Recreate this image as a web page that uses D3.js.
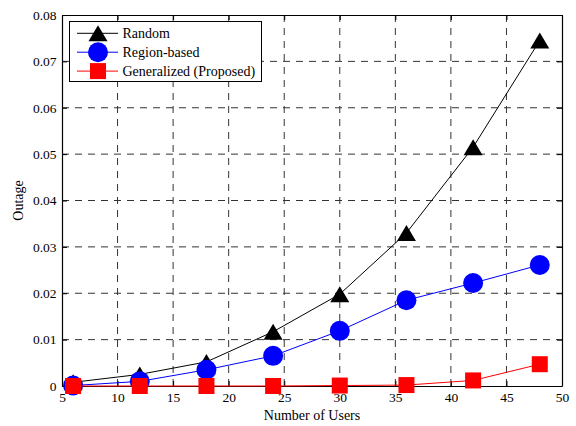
<!DOCTYPE html>
<html>
<head>
<meta charset="utf-8">
<style>
	body { margin: 0; background: #fff; }
	text { font-family: "Liberation Serif", "Times New Roman", "DejaVu Serif", serif; fill: #000; }
	.grid line { stroke: #333; stroke-dasharray: 7,6; stroke-width: 1; }
</style>
</head>
<body>
<svg width="576" height="426" font-family="Liberation Serif"></svg>
<script src="https://d3js.org/d3.v7.min.js"></script>
<script>

	var users = [6, 12, 18, 24, 30, 36, 42, 48];
	var randomOutage = [0.0008, 0.0025, 0.0052, 0.0117, 0.0198, 0.0330, 0.0515, 0.0745];
	var regionOutage = [0.0001, 0.0010, 0.0035, 0.0065, 0.0119, 0.0185, 0.0222, 0.0261];
	var generalOutage = [0.0000, 0.0000, 0.0000, 0.0000, 0.0001, 0.0002, 0.0012, 0.0047];
	var xTicks = [5, 10, 15, 20, 25, 30, 35, 40, 45, 50];
	var yTicks = [0, 0.01, 0.02, 0.03, 0.04, 0.05, 0.06, 0.07, 0.08];
	var seriesNames = ["Random", "Region-based", "Generalized (Proposed)"];

	var svg = d3.select("svg"),
		pLeft = 62, pRight = 562, pTop = 15, pBottom = 386;

	var x = d3.scaleLinear().domain([5, 50]).range([pLeft, pRight]);
	var y = d3.scaleLinear().domain([0, 0.08]).range([pBottom, pTop]);

	// grid
	var grid = svg.append("g").attr("class", "grid");
	grid.selectAll(".gx").data(xTicks.slice(1, -1)).enter().append("line")
		.attr("x1", function (d) { return x(d); }).attr("x2", function (d) { return x(d); })
		.attr("y1", pTop).attr("y2", pBottom);
	grid.selectAll(".gy").data(yTicks.slice(1, -1)).enter().append("line")
		.attr("y1", function (d) { return y(d); }).attr("y2", function (d) { return y(d); })
		.attr("x1", pLeft).attr("x2", pRight);

	// axes, ticks inside on all four sides
	function fmt(d) { return d === 0 ? "0" : d3.format(".2f")(d); }
	svg.append("g").attr("transform", "translate(0," + pBottom + ")")
		.call(d3.axisBottom(x).tickValues(xTicks).tickSizeInner(-5).tickSizeOuter(0).tickPadding(6.5));
	svg.append("g").attr("transform", "translate(" + pLeft + ",0)")
		.call(d3.axisLeft(y).tickValues(yTicks).tickFormat(fmt).tickSizeInner(-5).tickSizeOuter(0).tickPadding(5.5));
	svg.append("g").attr("transform", "translate(0," + pTop + ")")
		.call(d3.axisTop(x).tickValues(xTicks).tickFormat("").tickSizeInner(-5).tickSizeOuter(0));
	svg.append("g").attr("transform", "translate(" + pRight + ",0)")
		.call(d3.axisRight(y).tickValues(yTicks).tickFormat("").tickSizeInner(-5).tickSizeOuter(0));
	svg.selectAll("g").attr("font-family", null);
	svg.selectAll(".domain").attr("stroke", "#000").attr("stroke-width", 1.2);
	svg.selectAll(".tick line").attr("stroke", "#000");
	svg.selectAll(".tick text").attr("font-family", "Liberation Serif").attr("font-size", "13.5px").attr("fill", "#000");

	svg.append("text").attr("x", (pLeft + pRight) / 2).attr("y", 420)
		.attr("text-anchor", "middle").attr("font-size", "14px").text("Number of Users");
	svg.append("text").attr("transform", "translate(23," + ((pTop + pBottom) / 2) + ") rotate(-90)")
		.attr("text-anchor", "middle").attr("font-size", "14px").text("Outage");

	var line = d3.line().x(function (d, i) { return x(users[i]); }).y(function (d) { return y(d); });

	var series = [
		{ values: randomOutage, color: "#000", marker: "tri" },
		{ values: regionOutage, color: "#0000ff", marker: "circle" },
		{ values: generalOutage, color: "#ff0000", marker: "square" }
	];

	function drawMarker(g, kind, color, cx, cy) {
		if (kind === "tri") {
			// upward triangle, bounding box centred on the point
			g.append("path").attr("d", "M0,-8L9.5,8L-9.5,8Z").attr("fill", color)
				.attr("transform", "translate(" + cx + "," + cy + ")");
		} else if (kind === "circle") {
			g.append("circle").attr("cx", cx).attr("cy", cy).attr("r", 10).attr("fill", color);
		} else {
			g.append("rect").attr("x", cx - 8).attr("y", cy - 8).attr("width", 16).attr("height", 16).attr("fill", color);
		}
	}

	series.forEach(function (s) {
		svg.append("path").datum(s.values).attr("d", line)
			.attr("fill", "none").attr("stroke", s.color).attr("stroke-width", 1);
		var g = svg.append("g");
		s.values.forEach(function (v, i) { drawMarker(g, s.marker, s.color, x(users[i]), y(v)); });
	});

	// legend
	var lg = svg.append("g");
	lg.append("rect").attr("x", 69.5).attr("y", 21.5).attr("width", 192).attr("height", 60)
		.attr("fill", "#fff").attr("stroke", "#000").attr("stroke-width", 1);
	series.forEach(function (s, i) {
		var ly = 33.3 + i * 18.9;
		lg.append("line").attr("x1", 77).attr("x2", 118).attr("y1", ly).attr("y2", ly)
			.attr("stroke", s.color).attr("stroke-width", 1);
		drawMarker(lg, s.marker, s.color, 98, ly);
		lg.append("text").attr("x", 122.5).attr("y", ly + 4.5).attr("font-size", "14px").text(seriesNames[i]);
	});

</script>
</body>
</html>
